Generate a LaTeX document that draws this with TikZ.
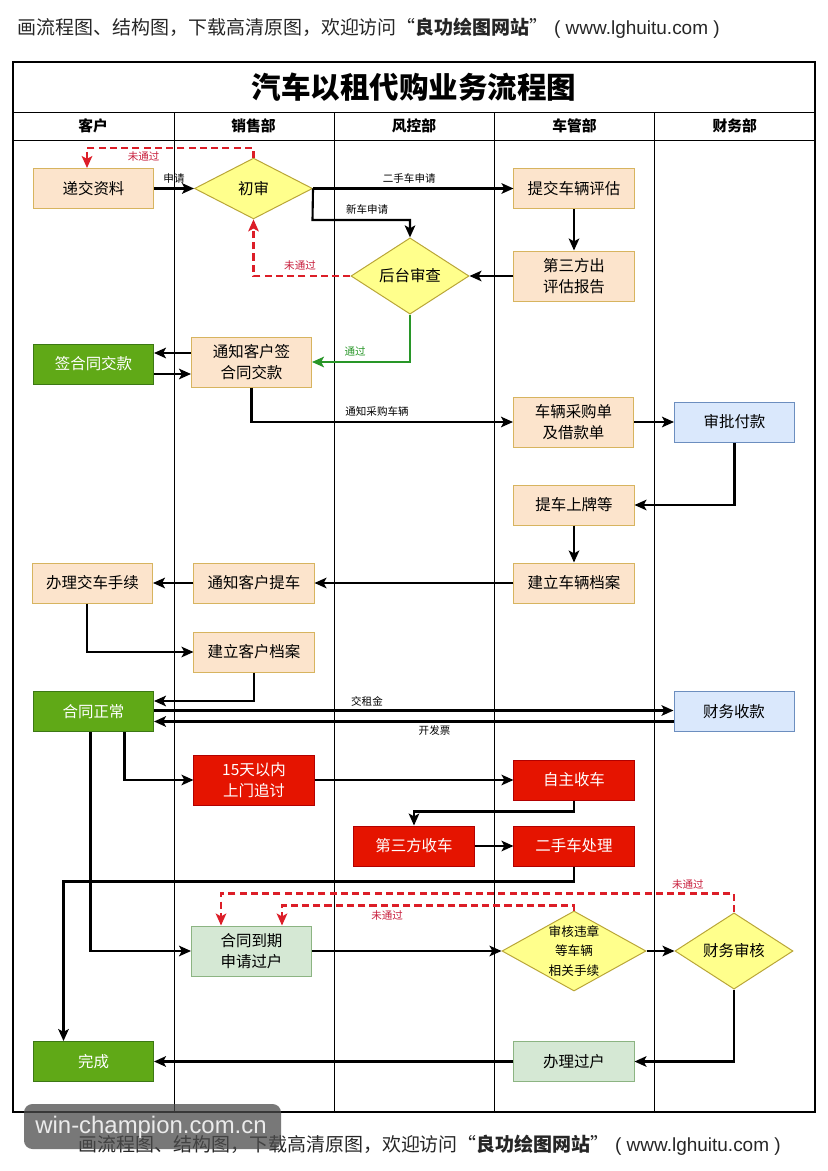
\documentclass[tikz,border=0pt]{standalone}
\usepackage{fontspec}
\setmainfont{Noto Sans CJK SC}
\newfontfamily\markfont{Liberation Sans}
\usepackage{tikz}
\usetikzlibrary{positioning,calc}
\usetikzlibrary{arrows.meta,shapes.geometric}
\definecolor{PeachFill}{RGB}{252,228,204}
\definecolor{PeachLine}{RGB}{215,180,95}
\definecolor{CheckFill}{RGB}{255,255,140}
\definecolor{CheckLine}{RGB}{185,165,55}
\definecolor{OkGreen}{RGB}{96,169,23}
\definecolor{OkGreenLine}{RGB}{60,120,20}
\definecolor{WarnRed}{RGB}{229,20,0}
\definecolor{WarnRedLine}{RGB}{178,0,0}
\definecolor{PayBlue}{RGB}{218,232,252}
\definecolor{PayBlueLine}{RGB}{108,142,191}
\definecolor{DoneGreen}{RGB}{213,232,212}
\definecolor{DoneGreenLine}{RGB}{140,180,130}
\definecolor{NoRed}{RGB}{220,30,40}
\definecolor{NoText}{RGB}{200,30,60}
\definecolor{PassGreen}{RGB}{40,150,40}
\tikzset{
	task/.style={draw=PeachLine,fill=PeachFill,line width=0.7pt,inner sep=2pt,
		minimum width=3cm,minimum height=1cm,align=center,font=\fontsize{11}{15}\selectfont},
	tall/.style={minimum height=1.25cm},
	okbox/.style={task,draw=OkGreenLine,fill=OkGreen,text=white},
	warnbox/.style={task,draw=WarnRedLine,fill=WarnRed,text=white},
	paybox/.style={task,draw=PayBlueLine,fill=PayBlue},
	donebox/.style={task,draw=DoneGreenLine,fill=DoneGreen},
	check/.style={diamond,draw=CheckLine,fill=CheckFill,line width=0.7pt,inner sep=0pt,
		minimum width=2.95cm,minimum height=1.52cm,align=center,font=\fontsize{11}{14}\selectfont},
	flow/.style={draw=black,line width=1.5pt,-{Stealth[length=8.5pt,width=7.5pt,inset=2pt]}},
	nopass/.style={flow,draw=NoRed,dash pattern=on 5pt off 3pt},
	tag/.style={font=\fontsize{7.5}{9}\selectfont,inner sep=1pt},
	notag/.style={tag,text=NoText},
	lane/.style={draw=black,line width=0.6pt},
	head/.style={font=\fontsize{10.5}{12}\selectfont\bfseries},
	caption/.style={font=\fontsize{13.5}{16}\selectfont,inner sep=0pt,text=black!85},
}

\begin{document}
\begin{tikzpicture}[x=0.025cm,y=-0.025cm]
	\useasboundingbox (0,0) rectangle (828,1171);
	\fill[white] (0,0) rectangle (828,1171);
	% frame and lanes
	\draw[line width=0.9pt] (13,62) rectangle (815,1112);
	\draw[lane] (13,112) -- (815,112);
	\draw[lane] (13,140) -- (815,140);
	\foreach \x in {174,334,494,654} \draw[lane] (\x,112) -- (\x,1112);
	\node[font=\fontsize{21}{25}\selectfont\bfseries] (title) at (414,87) {汽车以租代购业务流程图};
	\foreach \name [count=\i] in {客户,销售部,风控部,车管部,财务部}
		\node[head] (head\i) at ({13+160.4*(\i-0.5)},126) {\name};
	% steps
	\node[task] (dijiao) at (93.5,188.5) {递交资料};
	\node[check] (chushen) at (253.5,188.5) {初审};
	\node[task] (tijiao) at (574,188.5) {提交车辆评估};
	\node[task,tall] (baogao) at (574,276) {第三方出\\评估报告};
	\node[check] (houtai) at (410,276) {后台审查};
	\node[okbox] (qian) at (93.5,364) {签合同交款};
	\node[task,tall] (tongzhi) at (251.5,362) {通知客户签\\合同交款};
	\node[task,tall] (caigou) at (573.5,422) {车辆采购单\\及借款单};
	\node[paybox] (shenpi) at (734.5,422) {审批付款};
	\node[task] (tiche) at (574,505) {提车上牌等};
	\node[task] (cheliang) at (574,583) {建立车辆档案};
	\node[task] (tongzhiti) at (254,583) {通知客户提车};
	\node[task] (jiaoche) at (92.5,583) {办理交车手续};
	\node[task] (kehu) at (254,652) {建立客户档案};
	\node[okbox] (zhengchang) at (93.5,711.5) {合同正常};
	\node[paybox] (shoukuan) at (734,711.5) {财务收款};
	\node[warnbox,tall] (zhuitao) at (254,780) {15天以内\\上门追讨};
	\node[warnbox] (zizhu) at (574,780) {自主收车};
	\node[warnbox] (disanfang) at (414,846) {第三方收车};
	\node[warnbox] (ershou) at (574,846) {二手车处理};
	\node[donebox,tall] (daoqi) at (251.5,951) {合同到期\\申请过户};
	\node[check,aspect=1.8,minimum width=3.6cm,minimum height=2cm,
		font=\fontsize{9}{14}\selectfont] (weizhang) at (574,951) {审核违章\\等车辆\\相关手续};
	\node[check] (caiwu) at (734,951) {财务审核};
	\node[okbox] (wancheng) at (93.5,1061.5) {完成};
	\node[donebox] (guohu) at (574,1061.5) {办理过户};
	% turning points
	\coordinate (back1) at (87,148);
	\coordinate (xinche) at (312.5,220);
	\coordinate (back3) at (282,905.5);
	\coordinate (back4) at (221,893.5);
	% connectors
	\draw[flow] (dijiao.east) -- (chushen.west) node[tag,midway,above=2pt] {申请};
	\draw[nopass] (chushen.north) |- (back1) node[notag,pos=0.83,below=1pt] {未通过}
		-- (back1 |- dijiao.north);
	\draw[flow] (chushen.east) -- (tijiao.west) node[tag,pos=0.48,above=2pt] {二手车申请};
	\draw[flow] (chushen.east) -- (xinche) -| (houtai.north) node[tag,pos=0.28,above=2pt] {新车申请};
	\draw[flow] (tijiao) -- (baogao);
	\draw[flow] (baogao) -- (houtai);
	\draw[nopass] (houtai.west) -| (chushen.south) node[notag,pos=0.26,above=2pt] {未通过};
	\draw[flow,draw=PassGreen] (houtai.south) |- (tongzhi.east)
		node[tag,text=PassGreen,pos=0.78,above=2pt] {通过};
	\draw[flow] ($(tongzhi.west)+(0,-9)$) -- ($(qian.east)+(0,-11)$);
	\draw[flow] ($(qian.east)+(0,10)$) -- ($(tongzhi.west)+(0,12)$);
	\draw[flow] (tongzhi.south) |- (caigou.west) node[tag,pos=0.74,above=2pt] {通知采购车辆};
	\draw[flow] (caigou) -- (shenpi);
	\draw[flow] (shenpi.south) |- (tiche.east);
	\draw[flow] (tiche) -- (cheliang);
	\draw[flow] (cheliang) -- (tongzhiti);
	\draw[flow] (tongzhiti) -- (jiaoche);
	\draw[flow] ($(jiaoche.south)+(-5.5,0)$) |- (kehu.west);
	\draw[flow] (kehu.south) |- ($(zhengchang.east)+(0,-10.5)$);
	\draw[flow] ($(zhengchang.east)+(0,-1)$) -- ($(shoukuan.west)+(0,-1)$)
		node[tag,pos=0.41,above=1pt] {交租金};
	\draw[flow] ($(shoukuan.west)+(0,10)$) -- ($(zhengchang.east)+(0,10)$)
		node[tag,pos=0.46,below=1pt] {开发票};
	\draw[flow] ($(zhengchang.south)+(31,0)$) |- (zhuitao.west);
	\draw[flow] (zhuitao) -- (zizhu);
	\draw[flow] (zizhu.south) -- ++(0,11) -| (disanfang.north);
	\draw[flow] (disanfang) -- (ershou);
	\draw[flow] (ershou.south) -- ++(0,15) -| ($(wancheng.north)+(-30,0)$);
	\draw[flow] ($(zhengchang.south)+(-3,0)$) |- (daoqi.west);
	\draw[flow] (daoqi) -- (weizhang);
	\draw[flow] (weizhang) -- (caiwu);
	\draw[nopass] (weizhang.north) |- (back3) node[notag,pos=0.82,below=2pt] {未通过}
		-- (back3 |- daoqi.north);
	\draw[nopass] (caiwu.north) |- (back4) node[notag,pos=0.545,above=1pt] {未通过}
		-- (back4 |- daoqi.north);
	\draw[flow] (caiwu.south) |- (guohu.east);
	\draw[flow] (guohu) -- (wancheng);
	% captions and mark
	\node[caption,anchor=west] (topline) at (17,28)
		{画流程图、结构图，下载高清原图，欢迎访问“{\bfseries 良功绘图网站}”{\markfont\ ( www.lghuitu.com )}};
	\node[caption,anchor=west] (bottomline) at (78,1145)
		{画流程图、结构图，下载高清原图，欢迎访问“{\bfseries 良功绘图网站}”{\markfont\ ( www.lghuitu.com )}};
	\fill[black!70,fill opacity=0.75,rounded corners=6pt] (24,1104) rectangle (281,1149);
	\node[font=\markfont\fontsize{17}{20}\selectfont,text=black!8] (mark) at (151,1127) {win-champion.com.cn};
\end{tikzpicture}
\end{document}
